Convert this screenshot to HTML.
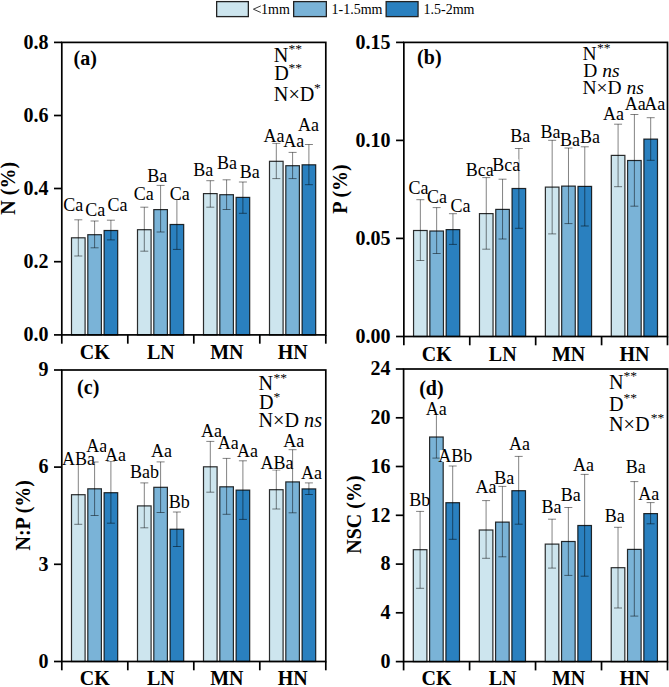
<!DOCTYPE html>
<html><head><meta charset="utf-8"><style>
html,body{margin:0;padding:0;background:#fff;}
svg{display:block;}
text{font-family:'Liberation Serif', serif;fill:#000;}
</style></head><body>
<svg width="669" height="687" viewBox="0 0 669 687">
<rect x="71.5" y="237.8" width="13.6" height="97.1" fill="#cde5ee" stroke="#000" stroke-opacity="0.82" stroke-width="1.2"/>
<rect x="87.8" y="234.7" width="13.6" height="100.2" fill="#7ab3d7" stroke="#000" stroke-opacity="0.82" stroke-width="1.2"/>
<rect x="104.1" y="230.5" width="13.6" height="104.4" fill="#2a80bf" stroke="#000" stroke-opacity="0.82" stroke-width="1.2"/>
<rect x="137.5" y="229.7" width="13.6" height="105.2" fill="#cde5ee" stroke="#000" stroke-opacity="0.82" stroke-width="1.2"/>
<rect x="153.8" y="209.6" width="13.6" height="125.3" fill="#7ab3d7" stroke="#000" stroke-opacity="0.82" stroke-width="1.2"/>
<rect x="170.1" y="224.5" width="13.6" height="110.4" fill="#2a80bf" stroke="#000" stroke-opacity="0.82" stroke-width="1.2"/>
<rect x="203.5" y="193.6" width="13.6" height="141.3" fill="#cde5ee" stroke="#000" stroke-opacity="0.82" stroke-width="1.2"/>
<rect x="219.8" y="194.7" width="13.6" height="140.2" fill="#7ab3d7" stroke="#000" stroke-opacity="0.82" stroke-width="1.2"/>
<rect x="236.1" y="197.4" width="13.6" height="137.5" fill="#2a80bf" stroke="#000" stroke-opacity="0.82" stroke-width="1.2"/>
<rect x="269.5" y="161.3" width="13.6" height="173.6" fill="#cde5ee" stroke="#000" stroke-opacity="0.82" stroke-width="1.2"/>
<rect x="285.8" y="165.7" width="13.6" height="169.2" fill="#7ab3d7" stroke="#000" stroke-opacity="0.82" stroke-width="1.2"/>
<rect x="302.1" y="164.8" width="13.6" height="170.1" fill="#2a80bf" stroke="#000" stroke-opacity="0.82" stroke-width="1.2"/>
<path d="M78.3 219.8V256M74.3 219.8H82.3M74.3 256H82.3" stroke="#000" stroke-opacity="0.55" stroke-width="0.9" fill="none"/>
<path d="M94.6 221V247.8M90.6 221H98.6M90.6 247.8H98.6" stroke="#000" stroke-opacity="0.55" stroke-width="0.9" fill="none"/>
<path d="M110.9 220.2V239.9M106.9 220.2H114.9M106.9 239.9H114.9" stroke="#000" stroke-opacity="0.55" stroke-width="0.9" fill="none"/>
<path d="M144.3 207.2V251.2M140.3 207.2H148.3M140.3 251.2H148.3" stroke="#000" stroke-opacity="0.55" stroke-width="0.9" fill="none"/>
<path d="M160.6 185.4V232M156.6 185.4H164.6M156.6 232H164.6" stroke="#000" stroke-opacity="0.55" stroke-width="0.9" fill="none"/>
<path d="M176.9 198V249.4M172.9 198H180.9M172.9 249.4H180.9" stroke="#000" stroke-opacity="0.55" stroke-width="0.9" fill="none"/>
<path d="M210.3 180.7V207.2M206.3 180.7H214.3M206.3 207.2H214.3" stroke="#000" stroke-opacity="0.55" stroke-width="0.9" fill="none"/>
<path d="M226.6 179.8V209.5M222.6 179.8H230.6M222.6 209.5H230.6" stroke="#000" stroke-opacity="0.55" stroke-width="0.9" fill="none"/>
<path d="M242.9 182V213.3M238.9 182H246.9M238.9 213.3H246.9" stroke="#000" stroke-opacity="0.55" stroke-width="0.9" fill="none"/>
<path d="M276.3 143.3V178.6M272.3 143.3H280.3M272.3 178.6H280.3" stroke="#000" stroke-opacity="0.55" stroke-width="0.9" fill="none"/>
<path d="M292.6 152.4V178.6M288.6 152.4H296.6M288.6 178.6H296.6" stroke="#000" stroke-opacity="0.55" stroke-width="0.9" fill="none"/>
<path d="M308.9 144.5V184.7M304.9 144.5H312.9M304.9 184.7H312.9" stroke="#000" stroke-opacity="0.55" stroke-width="0.9" fill="none"/>
<rect x="64.4" y="199.6" width="17.6" height="11.8" fill="#fff"/>
<text transform="translate(73.35 211.1) scale(1 1.04)" text-anchor="middle" font-size="18">Ca</text>
<rect x="85.9" y="204.8" width="18.3" height="11.8" fill="#fff"/>
<text transform="translate(95.2 216.3) scale(1 1.04)" text-anchor="middle" font-size="18">Ca</text>
<rect x="108.1" y="199.9" width="18.3" height="11.8" fill="#fff"/>
<text transform="translate(117.4 211.4) scale(1 1.04)" text-anchor="middle" font-size="18">Ca</text>
<rect x="134.7" y="188" width="18" height="11.8" fill="#fff"/>
<text transform="translate(143.85 199.5) scale(1 1.04)" text-anchor="middle" font-size="18">Ca</text>
<rect x="147.8" y="170" width="18.5" height="11.8" fill="#fff"/>
<text transform="translate(157.2 181.5) scale(1 1.04)" text-anchor="middle" font-size="18">Ba</text>
<rect x="170.2" y="188" width="18.7" height="11.8" fill="#fff"/>
<text transform="translate(179.7 199.5) scale(1 1.04)" text-anchor="middle" font-size="18">Ca</text>
<rect x="194.6" y="164.3" width="17.1" height="11.8" fill="#fff"/>
<text transform="translate(203.3 175.8) scale(1 1.04)" text-anchor="middle" font-size="18">Ba</text>
<rect x="217.9" y="157.8" width="17.8" height="11.8" fill="#fff"/>
<text transform="translate(226.95 169.3) scale(1 1.04)" text-anchor="middle" font-size="18">Ba</text>
<rect x="240.6" y="166" width="17.8" height="11.8" fill="#fff"/>
<text transform="translate(249.65 177.5) scale(1 1.04)" text-anchor="middle" font-size="18">Ba</text>
<rect x="264.4" y="130.8" width="18.9" height="11.8" fill="#fff"/>
<text transform="translate(274 142.3) scale(1 1.04)" text-anchor="middle" font-size="18">Aa</text>
<rect x="284.5" y="135.3" width="18" height="11.8" fill="#fff"/>
<text transform="translate(293.65 146.8) scale(1 1.04)" text-anchor="middle" font-size="18">Aa</text>
<rect x="298.8" y="119.6" width="18.9" height="11.8" fill="#fff"/>
<text transform="translate(308.4 131.1) scale(1 1.04)" text-anchor="middle" font-size="18">Aa</text>
<rect x="61.8" y="42.4" width="264" height="292.5" fill="none" stroke="#000" stroke-width="1.7"/>
<path d="M54 334.9H61.8" stroke="#000" stroke-width="1.7"/>
<text x="48.6" y="341.1" text-anchor="end" font-weight="bold" font-size="20">0.0</text>
<path d="M54 261.7H61.8" stroke="#000" stroke-width="1.7"/>
<text x="48.6" y="267.9" text-anchor="end" font-weight="bold" font-size="20">0.2</text>
<path d="M54 188.5H61.8" stroke="#000" stroke-width="1.7"/>
<text x="48.6" y="194.7" text-anchor="end" font-weight="bold" font-size="20">0.4</text>
<path d="M54 115.5H61.8" stroke="#000" stroke-width="1.7"/>
<text x="48.6" y="121.7" text-anchor="end" font-weight="bold" font-size="20">0.6</text>
<path d="M54 42.4H61.8" stroke="#000" stroke-width="1.7"/>
<text x="48.6" y="48.6" text-anchor="end" font-weight="bold" font-size="20">0.8</text>
<path d="M61.8 334.9V343.7" stroke="#000" stroke-width="1.7"/>
<path d="M127.8 334.9V343.7" stroke="#000" stroke-width="1.7"/>
<path d="M193.8 334.9V343.7" stroke="#000" stroke-width="1.7"/>
<path d="M259.8 334.9V343.7" stroke="#000" stroke-width="1.7"/>
<path d="M325.8 334.9V343.7" stroke="#000" stroke-width="1.7"/>
<text x="94.8" y="358.6" text-anchor="middle" font-weight="bold" font-size="20">CK</text>
<text x="160.8" y="358.6" text-anchor="middle" font-weight="bold" font-size="20">LN</text>
<text x="226.8" y="358.6" text-anchor="middle" font-weight="bold" font-size="20">MN</text>
<text x="292.8" y="358.6" text-anchor="middle" font-weight="bold" font-size="20">HN</text>
<text transform="translate(15.1 188.3) rotate(-90)" text-anchor="middle" font-weight="bold" font-size="20">N (%)</text>
<text x="73.5" y="65.3" font-weight="bold" font-size="20">(a)</text>
<text x="273.8" y="62.2" font-size="20.2">N</text>
<text x="288.6" y="53.3" font-size="13.5">**</text>
<text x="274.3" y="80.3" font-size="20.2">D</text>
<text x="288.6" y="72" font-size="13.5">**</text>
<text x="273.8" y="100.5" font-size="20.2">N×D</text>
<text x="314.1" y="91.8" font-size="13.5">*</text>
<rect x="413.55" y="230.5" width="13.6" height="106" fill="#cde5ee" stroke="#000" stroke-opacity="0.82" stroke-width="1.2"/>
<rect x="429.85" y="231" width="13.6" height="105.5" fill="#7ab3d7" stroke="#000" stroke-opacity="0.82" stroke-width="1.2"/>
<rect x="446.15" y="229.6" width="13.6" height="106.9" fill="#2a80bf" stroke="#000" stroke-opacity="0.82" stroke-width="1.2"/>
<rect x="479.46" y="213.6" width="13.6" height="122.9" fill="#cde5ee" stroke="#000" stroke-opacity="0.82" stroke-width="1.2"/>
<rect x="495.76" y="209.4" width="13.6" height="127.1" fill="#7ab3d7" stroke="#000" stroke-opacity="0.82" stroke-width="1.2"/>
<rect x="512.06" y="188.5" width="13.6" height="148" fill="#2a80bf" stroke="#000" stroke-opacity="0.82" stroke-width="1.2"/>
<rect x="545.38" y="187.1" width="13.6" height="149.4" fill="#cde5ee" stroke="#000" stroke-opacity="0.82" stroke-width="1.2"/>
<rect x="561.67" y="186.1" width="13.6" height="150.4" fill="#7ab3d7" stroke="#000" stroke-opacity="0.82" stroke-width="1.2"/>
<rect x="577.98" y="186.4" width="13.6" height="150.1" fill="#2a80bf" stroke="#000" stroke-opacity="0.82" stroke-width="1.2"/>
<rect x="611.29" y="155.4" width="13.6" height="181.1" fill="#cde5ee" stroke="#000" stroke-opacity="0.82" stroke-width="1.2"/>
<rect x="627.59" y="160.5" width="13.6" height="176" fill="#7ab3d7" stroke="#000" stroke-opacity="0.82" stroke-width="1.2"/>
<rect x="643.89" y="139.1" width="13.6" height="197.4" fill="#2a80bf" stroke="#000" stroke-opacity="0.82" stroke-width="1.2"/>
<path d="M420.35 199.7V260.5M416.35 199.7H424.35M416.35 260.5H424.35" stroke="#000" stroke-opacity="0.55" stroke-width="0.9" fill="none"/>
<path d="M436.65 207.6V253.5M432.65 207.6H440.65M432.65 253.5H440.65" stroke="#000" stroke-opacity="0.55" stroke-width="0.9" fill="none"/>
<path d="M452.95 213.7V244.4M448.95 213.7H456.95M448.95 244.4H456.95" stroke="#000" stroke-opacity="0.55" stroke-width="0.9" fill="none"/>
<path d="M486.26 177.6V249.2M482.26 177.6H490.26M482.26 249.2H490.26" stroke="#000" stroke-opacity="0.55" stroke-width="0.9" fill="none"/>
<path d="M502.56 179.2V239M498.56 179.2H506.56M498.56 239H506.56" stroke="#000" stroke-opacity="0.55" stroke-width="0.9" fill="none"/>
<path d="M518.86 148.5V228.3M514.86 148.5H522.86M514.86 228.3H522.86" stroke="#000" stroke-opacity="0.55" stroke-width="0.9" fill="none"/>
<path d="M552.17 140.3V233.9M548.17 140.3H556.17M548.17 233.9H556.17" stroke="#000" stroke-opacity="0.55" stroke-width="0.9" fill="none"/>
<path d="M568.47 148V223.6M564.47 148H572.47M564.47 223.6H572.47" stroke="#000" stroke-opacity="0.55" stroke-width="0.9" fill="none"/>
<path d="M584.77 146.8V226M580.77 146.8H588.77M580.77 226H588.77" stroke="#000" stroke-opacity="0.55" stroke-width="0.9" fill="none"/>
<path d="M618.09 124.2V186.7M614.09 124.2H622.09M614.09 186.7H622.09" stroke="#000" stroke-opacity="0.55" stroke-width="0.9" fill="none"/>
<path d="M634.39 114.5V206.2M630.39 114.5H638.39M630.39 206.2H638.39" stroke="#000" stroke-opacity="0.55" stroke-width="0.9" fill="none"/>
<path d="M650.69 117.7V160.3M646.69 117.7H654.69M646.69 160.3H654.69" stroke="#000" stroke-opacity="0.55" stroke-width="0.9" fill="none"/>
<rect x="409.9" y="182.1" width="17.1" height="11.8" fill="#fff"/>
<text transform="translate(418.6 193.6) scale(1 1.04)" text-anchor="middle" font-size="18">Ca</text>
<rect x="427.9" y="191.7" width="17.8" height="11.8" fill="#fff"/>
<text transform="translate(436.95 203.2) scale(1 1.04)" text-anchor="middle" font-size="18">Ca</text>
<rect x="451.1" y="200.1" width="18.3" height="11.8" fill="#fff"/>
<text transform="translate(460.4 211.6) scale(1 1.04)" text-anchor="middle" font-size="18">Ca</text>
<rect x="467.2" y="164.7" width="24.7" height="11.8" fill="#fff"/>
<text transform="translate(479.7 176.2) scale(1 1.04)" text-anchor="middle" font-size="18">Bca</text>
<rect x="493.5" y="159.3" width="25.1" height="11.8" fill="#fff"/>
<text transform="translate(506.2 170.8) scale(1 1.04)" text-anchor="middle" font-size="18">Bca</text>
<rect x="511.5" y="130" width="17.3" height="11.8" fill="#fff"/>
<text transform="translate(520.3 141.5) scale(1 1.04)" text-anchor="middle" font-size="18">Ba</text>
<rect x="541.1" y="126.5" width="18.3" height="11.8" fill="#fff"/>
<text transform="translate(550.4 138) scale(1 1.04)" text-anchor="middle" font-size="18">Ba</text>
<rect x="560.7" y="134.6" width="18.4" height="11.8" fill="#fff"/>
<text transform="translate(570.05 146.1) scale(1 1.04)" text-anchor="middle" font-size="18">Ba</text>
<rect x="580.7" y="131.1" width="18.2" height="11.8" fill="#fff"/>
<text transform="translate(589.95 142.6) scale(1 1.04)" text-anchor="middle" font-size="18">Ba</text>
<rect x="603.8" y="108.5" width="19.1" height="11.8" fill="#fff"/>
<text transform="translate(613.5 120) scale(1 1.04)" text-anchor="middle" font-size="18">Aa</text>
<rect x="625.4" y="98.8" width="19.4" height="11.8" fill="#fff"/>
<text transform="translate(635.25 110.3) scale(1 1.04)" text-anchor="middle" font-size="18">Aa</text>
<rect x="645.7" y="98.8" width="17.7" height="11.8" fill="#fff"/>
<text transform="translate(654.7 110.3) scale(1 1.04)" text-anchor="middle" font-size="18">Aa</text>
<rect x="403.85" y="42.4" width="263.65" height="294.1" fill="none" stroke="#000" stroke-width="1.7"/>
<path d="M396.05 336.5H403.85" stroke="#000" stroke-width="1.7"/>
<text x="390.4" y="342.7" text-anchor="end" font-weight="bold" font-size="20">0.00</text>
<path d="M396.05 238.4H403.85" stroke="#000" stroke-width="1.7"/>
<text x="390.4" y="244.6" text-anchor="end" font-weight="bold" font-size="20">0.05</text>
<path d="M396.05 140.4H403.85" stroke="#000" stroke-width="1.7"/>
<text x="390.4" y="146.6" text-anchor="end" font-weight="bold" font-size="20">0.10</text>
<path d="M396.05 42.4H403.85" stroke="#000" stroke-width="1.7"/>
<text x="390.4" y="48.6" text-anchor="end" font-weight="bold" font-size="20">0.15</text>
<path d="M403.85 336.5V345.3" stroke="#000" stroke-width="1.7"/>
<path d="M469.76 336.5V345.3" stroke="#000" stroke-width="1.7"/>
<path d="M535.67 336.5V345.3" stroke="#000" stroke-width="1.7"/>
<path d="M601.59 336.5V345.3" stroke="#000" stroke-width="1.7"/>
<path d="M667.5 336.5V345.3" stroke="#000" stroke-width="1.7"/>
<text x="436.81" y="360.7" text-anchor="middle" font-weight="bold" font-size="20">CK</text>
<text x="502.72" y="360.7" text-anchor="middle" font-weight="bold" font-size="20">LN</text>
<text x="568.63" y="360.7" text-anchor="middle" font-weight="bold" font-size="20">MN</text>
<text x="634.54" y="360.7" text-anchor="middle" font-weight="bold" font-size="20">HN</text>
<text transform="translate(346.6 189) rotate(-90)" text-anchor="middle" font-weight="bold" font-size="20">P (%)</text>
<text x="417.1" y="63.8" font-weight="bold" font-size="20">(b)</text>
<text x="582.5" y="59.9" font-size="19.5">N</text>
<text x="597" y="51.8" font-size="13.5">**</text>
<text x="583.3" y="76.8" font-size="19.5">D <tspan font-style="italic">ns</tspan></text>
<text x="582.5" y="93.9" font-size="19.5">N×D <tspan font-style="italic">ns</tspan></text>
<rect x="71.5" y="494.7" width="13.6" height="166.8" fill="#cde5ee" stroke="#000" stroke-opacity="0.82" stroke-width="1.2"/>
<rect x="87.8" y="488.8" width="13.6" height="172.7" fill="#7ab3d7" stroke="#000" stroke-opacity="0.82" stroke-width="1.2"/>
<rect x="104.1" y="492.7" width="13.6" height="168.8" fill="#2a80bf" stroke="#000" stroke-opacity="0.82" stroke-width="1.2"/>
<rect x="137.5" y="505.9" width="13.6" height="155.6" fill="#cde5ee" stroke="#000" stroke-opacity="0.82" stroke-width="1.2"/>
<rect x="153.8" y="487.3" width="13.6" height="174.2" fill="#7ab3d7" stroke="#000" stroke-opacity="0.82" stroke-width="1.2"/>
<rect x="170.1" y="529.2" width="13.6" height="132.3" fill="#2a80bf" stroke="#000" stroke-opacity="0.82" stroke-width="1.2"/>
<rect x="203.5" y="466.8" width="13.6" height="194.7" fill="#cde5ee" stroke="#000" stroke-opacity="0.82" stroke-width="1.2"/>
<rect x="219.8" y="486.8" width="13.6" height="174.7" fill="#7ab3d7" stroke="#000" stroke-opacity="0.82" stroke-width="1.2"/>
<rect x="236.1" y="490.1" width="13.6" height="171.4" fill="#2a80bf" stroke="#000" stroke-opacity="0.82" stroke-width="1.2"/>
<rect x="269.5" y="489.7" width="13.6" height="171.8" fill="#cde5ee" stroke="#000" stroke-opacity="0.82" stroke-width="1.2"/>
<rect x="285.8" y="481.9" width="13.6" height="179.6" fill="#7ab3d7" stroke="#000" stroke-opacity="0.82" stroke-width="1.2"/>
<rect x="302.1" y="488.9" width="13.6" height="172.6" fill="#2a80bf" stroke="#000" stroke-opacity="0.82" stroke-width="1.2"/>
<path d="M78.3 462V524.3M74.3 462H82.3M74.3 524.3H82.3" stroke="#000" stroke-opacity="0.55" stroke-width="0.9" fill="none"/>
<path d="M94.6 462V515.5M90.6 462H98.6M90.6 515.5H98.6" stroke="#000" stroke-opacity="0.55" stroke-width="0.9" fill="none"/>
<path d="M110.9 461.2V523.2M106.9 461.2H114.9M106.9 523.2H114.9" stroke="#000" stroke-opacity="0.55" stroke-width="0.9" fill="none"/>
<path d="M144.3 482.9V527.8M140.3 482.9H148.3M140.3 527.8H148.3" stroke="#000" stroke-opacity="0.55" stroke-width="0.9" fill="none"/>
<path d="M160.6 461.9V512.5M156.6 461.9H164.6M156.6 512.5H164.6" stroke="#000" stroke-opacity="0.55" stroke-width="0.9" fill="none"/>
<path d="M176.9 512V546.5M172.9 512H180.9M172.9 546.5H180.9" stroke="#000" stroke-opacity="0.55" stroke-width="0.9" fill="none"/>
<path d="M210.3 441.4V492.2M206.3 441.4H214.3M206.3 492.2H214.3" stroke="#000" stroke-opacity="0.55" stroke-width="0.9" fill="none"/>
<path d="M226.6 458.4V514.3M222.6 458.4H230.6M222.6 514.3H230.6" stroke="#000" stroke-opacity="0.55" stroke-width="0.9" fill="none"/>
<path d="M242.9 460.8V519.4M238.9 460.8H246.9M238.9 519.4H246.9" stroke="#000" stroke-opacity="0.55" stroke-width="0.9" fill="none"/>
<path d="M276.3 470V509M272.3 470H280.3M272.3 509H280.3" stroke="#000" stroke-opacity="0.55" stroke-width="0.9" fill="none"/>
<path d="M292.6 449.7V512.8M288.6 449.7H296.6M288.6 512.8H296.6" stroke="#000" stroke-opacity="0.55" stroke-width="0.9" fill="none"/>
<path d="M308.9 482.9V494.5M304.9 482.9H312.9M304.9 494.5H312.9" stroke="#000" stroke-opacity="0.55" stroke-width="0.9" fill="none"/>
<rect x="63.4" y="453.2" width="29.9" height="11.8" fill="#fff"/>
<text transform="translate(78.5 464.7) scale(1 1.04)" text-anchor="middle" font-size="18">ABa</text>
<rect x="87.3" y="440" width="18.5" height="11.8" fill="#fff"/>
<text transform="translate(96.7 451.5) scale(1 1.04)" text-anchor="middle" font-size="18">Aa</text>
<rect x="106.1" y="449" width="18.3" height="11.8" fill="#fff"/>
<text transform="translate(115.4 460.5) scale(1 1.04)" text-anchor="middle" font-size="18">Aa</text>
<rect x="131.1" y="466.3" width="26.6" height="11.8" fill="#fff"/>
<text transform="translate(144.55 477.8) scale(1 1.04)" text-anchor="middle" font-size="18">Bab</text>
<rect x="151.6" y="445.3" width="19.6" height="11.8" fill="#fff"/>
<text transform="translate(161.55 456.8) scale(1 1.04)" text-anchor="middle" font-size="18">Aa</text>
<rect x="169.8" y="496.5" width="18.6" height="11.8" fill="#fff"/>
<text transform="translate(179.25 508) scale(1 1.04)" text-anchor="middle" font-size="18">Bb</text>
<rect x="201.8" y="425.3" width="19.1" height="11.8" fill="#fff"/>
<text transform="translate(211.5 436.8) scale(1 1.04)" text-anchor="middle" font-size="18">Aa</text>
<rect x="218.8" y="437.6" width="18.8" height="11.8" fill="#fff"/>
<text transform="translate(228.35 449.1) scale(1 1.04)" text-anchor="middle" font-size="18">Aa</text>
<rect x="238.1" y="445.3" width="18.6" height="11.8" fill="#fff"/>
<text transform="translate(247.55 456.8) scale(1 1.04)" text-anchor="middle" font-size="18">Aa</text>
<rect x="261.8" y="457.7" width="30" height="11.8" fill="#fff"/>
<text transform="translate(276.95 469.2) scale(1 1.04)" text-anchor="middle" font-size="18">ABa</text>
<rect x="283.9" y="435" width="19.5" height="11.8" fill="#fff"/>
<text transform="translate(293.8 446.5) scale(1 1.04)" text-anchor="middle" font-size="18">Aa</text>
<rect x="302" y="467.9" width="18.9" height="11.8" fill="#fff"/>
<text transform="translate(311.6 479.4) scale(1 1.04)" text-anchor="middle" font-size="18">Aa</text>
<rect x="61.8" y="370" width="264" height="291.5" fill="none" stroke="#000" stroke-width="1.7"/>
<path d="M54 661.5H61.8" stroke="#000" stroke-width="1.7"/>
<text x="48.6" y="667.7" text-anchor="end" font-weight="bold" font-size="20">0</text>
<path d="M54 564.3H61.8" stroke="#000" stroke-width="1.7"/>
<text x="48.6" y="570.5" text-anchor="end" font-weight="bold" font-size="20">3</text>
<path d="M54 467.1H61.8" stroke="#000" stroke-width="1.7"/>
<text x="48.6" y="473.3" text-anchor="end" font-weight="bold" font-size="20">6</text>
<path d="M54 370H61.8" stroke="#000" stroke-width="1.7"/>
<text x="48.6" y="376.2" text-anchor="end" font-weight="bold" font-size="20">9</text>
<path d="M61.8 661.5V670.3" stroke="#000" stroke-width="1.7"/>
<path d="M127.8 661.5V670.3" stroke="#000" stroke-width="1.7"/>
<path d="M193.8 661.5V670.3" stroke="#000" stroke-width="1.7"/>
<path d="M259.8 661.5V670.3" stroke="#000" stroke-width="1.7"/>
<path d="M325.8 661.5V670.3" stroke="#000" stroke-width="1.7"/>
<text x="94.8" y="684.8" text-anchor="middle" font-weight="bold" font-size="20">CK</text>
<text x="160.8" y="684.8" text-anchor="middle" font-weight="bold" font-size="20">LN</text>
<text x="226.8" y="684.8" text-anchor="middle" font-weight="bold" font-size="20">MN</text>
<text x="292.8" y="684.8" text-anchor="middle" font-weight="bold" font-size="20">HN</text>
<text transform="translate(29.8 515.3) rotate(-90)" text-anchor="middle" font-weight="bold" font-size="20">N:P (%)</text>
<text x="77.1" y="393.7" font-weight="bold" font-size="20">(c)</text>
<text x="258.5" y="390.3" font-size="20.2">N</text>
<text x="273.6" y="382" font-size="13.5">**</text>
<text x="259.1" y="409.3" font-size="20.2">D</text>
<text x="273.6" y="401.1" font-size="13.5">*</text>
<text x="258.5" y="427.1" font-size="20.2">N×D <tspan font-style="italic">ns</tspan></text>
<rect x="413.3" y="549.7" width="13.6" height="111.9" fill="#cde5ee" stroke="#000" stroke-opacity="0.82" stroke-width="1.2"/>
<rect x="429.6" y="437" width="13.6" height="224.6" fill="#7ab3d7" stroke="#000" stroke-opacity="0.82" stroke-width="1.2"/>
<rect x="445.9" y="502.7" width="13.6" height="158.9" fill="#2a80bf" stroke="#000" stroke-opacity="0.82" stroke-width="1.2"/>
<rect x="479.28" y="530" width="13.6" height="131.6" fill="#cde5ee" stroke="#000" stroke-opacity="0.82" stroke-width="1.2"/>
<rect x="495.58" y="522.1" width="13.6" height="139.5" fill="#7ab3d7" stroke="#000" stroke-opacity="0.82" stroke-width="1.2"/>
<rect x="511.88" y="490.7" width="13.6" height="170.9" fill="#2a80bf" stroke="#000" stroke-opacity="0.82" stroke-width="1.2"/>
<rect x="545.25" y="544.1" width="13.6" height="117.5" fill="#cde5ee" stroke="#000" stroke-opacity="0.82" stroke-width="1.2"/>
<rect x="561.55" y="541.5" width="13.6" height="120.1" fill="#7ab3d7" stroke="#000" stroke-opacity="0.82" stroke-width="1.2"/>
<rect x="577.85" y="525.5" width="13.6" height="136.1" fill="#2a80bf" stroke="#000" stroke-opacity="0.82" stroke-width="1.2"/>
<rect x="611.23" y="567.7" width="13.6" height="93.9" fill="#cde5ee" stroke="#000" stroke-opacity="0.82" stroke-width="1.2"/>
<rect x="627.52" y="549.4" width="13.6" height="112.2" fill="#7ab3d7" stroke="#000" stroke-opacity="0.82" stroke-width="1.2"/>
<rect x="643.83" y="513.6" width="13.6" height="148" fill="#2a80bf" stroke="#000" stroke-opacity="0.82" stroke-width="1.2"/>
<path d="M420.1 511.4V588.3M416.1 511.4H424.1M416.1 588.3H424.1" stroke="#000" stroke-opacity="0.55" stroke-width="0.9" fill="none"/>
<path d="M436.4 413V458.1M432.4 413H440.4M432.4 458.1H440.4" stroke="#000" stroke-opacity="0.55" stroke-width="0.9" fill="none"/>
<path d="M452.7 466V539.3M448.7 466H456.7M448.7 539.3H456.7" stroke="#000" stroke-opacity="0.55" stroke-width="0.9" fill="none"/>
<path d="M486.08 500.6V558.3M482.08 500.6H490.08M482.08 558.3H490.08" stroke="#000" stroke-opacity="0.55" stroke-width="0.9" fill="none"/>
<path d="M502.38 486.4V556.8M498.38 486.4H506.38M498.38 556.8H506.38" stroke="#000" stroke-opacity="0.55" stroke-width="0.9" fill="none"/>
<path d="M518.68 456.4V524.2M514.68 456.4H522.68M514.68 524.2H522.68" stroke="#000" stroke-opacity="0.55" stroke-width="0.9" fill="none"/>
<path d="M552.05 519.2V568.1M548.05 519.2H556.05M548.05 568.1H556.05" stroke="#000" stroke-opacity="0.55" stroke-width="0.9" fill="none"/>
<path d="M568.35 507.5V575.4M564.35 507.5H572.35M564.35 575.4H572.35" stroke="#000" stroke-opacity="0.55" stroke-width="0.9" fill="none"/>
<path d="M584.65 474.4V576.2M580.65 474.4H588.65M580.65 576.2H588.65" stroke="#000" stroke-opacity="0.55" stroke-width="0.9" fill="none"/>
<path d="M618.02 527.3V608M614.02 527.3H622.02M614.02 608H622.02" stroke="#000" stroke-opacity="0.55" stroke-width="0.9" fill="none"/>
<path d="M634.32 481.6V616.1M630.32 481.6H638.32M630.32 616.1H638.32" stroke="#000" stroke-opacity="0.55" stroke-width="0.9" fill="none"/>
<path d="M650.62 502.6V523.8M646.62 502.6H654.62M646.62 523.8H654.62" stroke="#000" stroke-opacity="0.55" stroke-width="0.9" fill="none"/>
<rect x="410.1" y="494.2" width="18.9" height="11.8" fill="#fff"/>
<text transform="translate(419.7 505.7) scale(1 1.04)" text-anchor="middle" font-size="18">Bb</text>
<rect x="426.7" y="403.4" width="18.7" height="11.8" fill="#fff"/>
<text transform="translate(436.2 414.9) scale(1 1.04)" text-anchor="middle" font-size="18">Aa</text>
<rect x="439.8" y="450.1" width="30.4" height="11.8" fill="#fff"/>
<text transform="translate(455.15 461.6) scale(1 1.04)" text-anchor="middle" font-size="18">ABb</text>
<rect x="476.1" y="481.9" width="19.5" height="11.8" fill="#fff"/>
<text transform="translate(486 493.4) scale(1 1.04)" text-anchor="middle" font-size="18">Aa</text>
<rect x="495" y="472.5" width="18.1" height="11.8" fill="#fff"/>
<text transform="translate(504.2 484) scale(1 1.04)" text-anchor="middle" font-size="18">Ba</text>
<rect x="509.6" y="438.5" width="19.5" height="11.8" fill="#fff"/>
<text transform="translate(519.5 450) scale(1 1.04)" text-anchor="middle" font-size="18">Aa</text>
<rect x="542.5" y="501.3" width="17.7" height="11.8" fill="#fff"/>
<text transform="translate(551.5 512.8) scale(1 1.04)" text-anchor="middle" font-size="18">Ba</text>
<rect x="562" y="489.1" width="17.4" height="11.8" fill="#fff"/>
<text transform="translate(570.85 500.6) scale(1 1.04)" text-anchor="middle" font-size="18">Ba</text>
<rect x="573.6" y="459.9" width="19.5" height="11.8" fill="#fff"/>
<text transform="translate(583.5 471.4) scale(1 1.04)" text-anchor="middle" font-size="18">Aa</text>
<rect x="605.6" y="510" width="18" height="11.8" fill="#fff"/>
<text transform="translate(614.75 521.5) scale(1 1.04)" text-anchor="middle" font-size="18">Ba</text>
<rect x="626.8" y="461.1" width="17.8" height="11.8" fill="#fff"/>
<text transform="translate(635.85 472.6) scale(1 1.04)" text-anchor="middle" font-size="18">Ba</text>
<rect x="638.5" y="488.2" width="20" height="11.8" fill="#fff"/>
<text transform="translate(648.65 499.7) scale(1 1.04)" text-anchor="middle" font-size="18">Aa</text>
<rect x="403.6" y="369" width="263.9" height="292.6" fill="none" stroke="#000" stroke-width="1.7"/>
<path d="M395.8 661.6H403.6" stroke="#000" stroke-width="1.7"/>
<text x="390.4" y="667.8" text-anchor="end" font-weight="bold" font-size="20">0</text>
<path d="M395.8 612.8H403.6" stroke="#000" stroke-width="1.7"/>
<text x="390.4" y="619" text-anchor="end" font-weight="bold" font-size="20">4</text>
<path d="M395.8 564.1H403.6" stroke="#000" stroke-width="1.7"/>
<text x="390.4" y="570.3" text-anchor="end" font-weight="bold" font-size="20">8</text>
<path d="M395.8 515.3H403.6" stroke="#000" stroke-width="1.7"/>
<text x="390.4" y="521.5" text-anchor="end" font-weight="bold" font-size="20">12</text>
<path d="M395.8 466.5H403.6" stroke="#000" stroke-width="1.7"/>
<text x="390.4" y="472.7" text-anchor="end" font-weight="bold" font-size="20">16</text>
<path d="M395.8 417.8H403.6" stroke="#000" stroke-width="1.7"/>
<text x="390.4" y="424" text-anchor="end" font-weight="bold" font-size="20">20</text>
<path d="M395.8 369H403.6" stroke="#000" stroke-width="1.7"/>
<text x="390.4" y="375.2" text-anchor="end" font-weight="bold" font-size="20">24</text>
<path d="M403.6 661.6V670.4" stroke="#000" stroke-width="1.7"/>
<path d="M469.58 661.6V670.4" stroke="#000" stroke-width="1.7"/>
<path d="M535.55 661.6V670.4" stroke="#000" stroke-width="1.7"/>
<path d="M601.52 661.6V670.4" stroke="#000" stroke-width="1.7"/>
<path d="M667.5 661.6V670.4" stroke="#000" stroke-width="1.7"/>
<text x="436.59" y="685.3" text-anchor="middle" font-weight="bold" font-size="20">CK</text>
<text x="502.56" y="685.3" text-anchor="middle" font-weight="bold" font-size="20">LN</text>
<text x="568.54" y="685.3" text-anchor="middle" font-weight="bold" font-size="20">MN</text>
<text x="634.51" y="685.3" text-anchor="middle" font-weight="bold" font-size="20">HN</text>
<text transform="translate(361.2 514.6) rotate(-90)" text-anchor="middle" font-weight="bold" font-size="20">NSC (%)</text>
<text x="419.2" y="394.6" font-weight="bold" font-size="20">(d)</text>
<text x="609" y="389.1" font-size="20.2">N</text>
<text x="623.4" y="380.3" font-size="13.5">**</text>
<text x="609" y="410.6" font-size="20.2">D</text>
<text x="623.4" y="401.8" font-size="13.5">**</text>
<text x="609" y="431.2" font-size="20.2">N×D</text>
<text x="650.7" y="422.2" font-size="13.5">**</text>
<path d="M260.8 5.9L253.4 9.2L260.8 12.5" fill="none" stroke="#222" stroke-width="0.9"/>
<rect x="216.65" y="1.6" width="31.7" height="15" fill="#cde5ee" stroke="#222" stroke-width="1.3"/>
<text x="261.1" y="13.8" font-size="14">1mm</text>
<rect x="293.65" y="1.6" width="32.7" height="15" fill="#7ab3d7" stroke="#222" stroke-width="1.3"/>
<text x="331.5" y="13.8" font-size="14">1-1.5mm</text>
<rect x="386.15" y="1.6" width="31.9" height="15" fill="#2a80bf" stroke="#222" stroke-width="1.3"/>
<text x="423.5" y="13.8" font-size="14">1.5-2mm</text>
</svg>
</body></html>
